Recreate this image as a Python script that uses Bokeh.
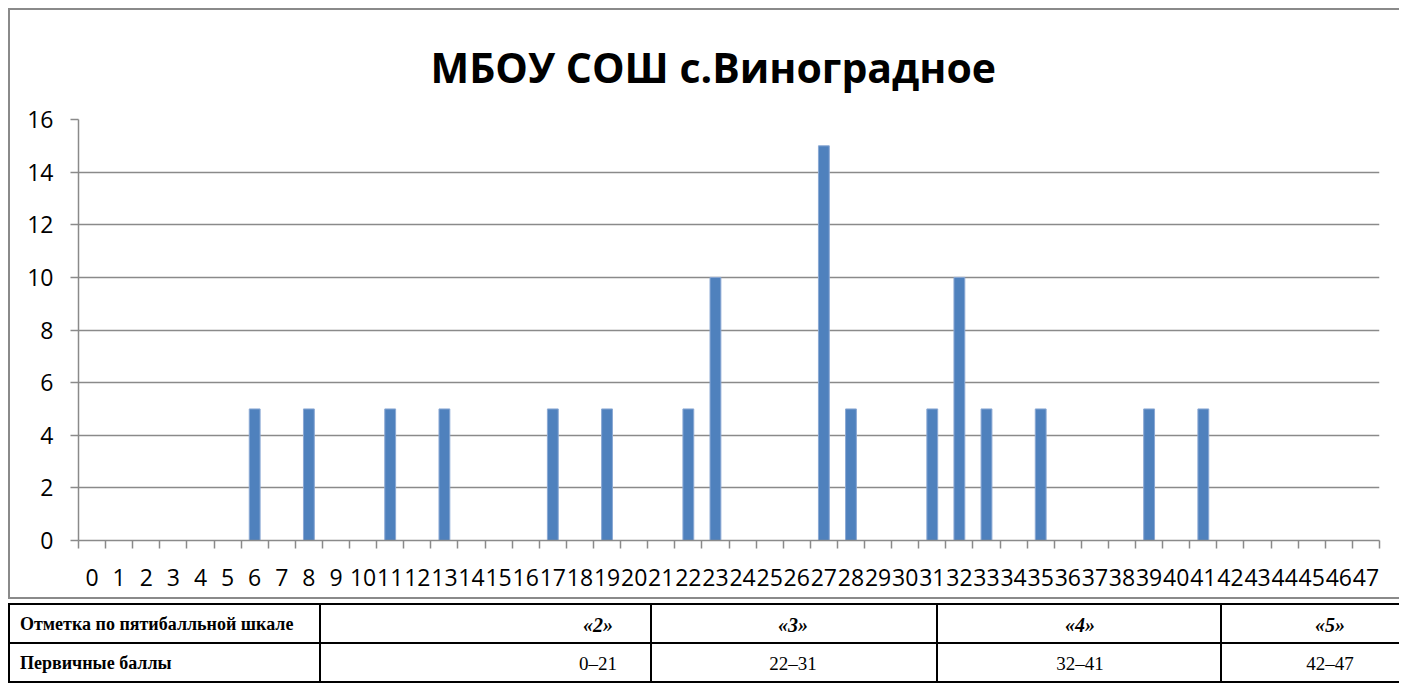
from bokeh.plotting import figure
from bokeh.models import Range1d, FixedTicker, Div
from bokeh.layouts import column
from bokeh.embed import file_html
from bokeh.resources import INLINE

# ---- data ----
title_text = "МБОУ СОШ с.Виноградное"
score_labels = [str(i) for i in range(48)]
scores = [6, 8, 11, 13, 17, 19, 22, 23, 27, 28, 31, 32, 33, 35, 39, 41]
counts = [5, 5, 5, 5, 5, 5, 5, 10, 15, 5, 5, 10, 5, 5, 5, 5]
y_ticks = [0, 2, 4, 6, 8, 10, 12, 14, 16]

row_headers = ["Отметка по пятибалльной шкале", "Первичные баллы"]
grades = ["«2»", "«3»", "«4»", "«5»"]
score_ranges = ["0–21", "22–31", "32–41", "42–47"]

GRAY = "#8a8a8a"
BAR = "#4F81BD"

p = figure(width=1391, height=591, output_backend="svg", toolbar_location=None,
           x_range=Range1d(-0.5, 47.5), y_range=Range1d(0, 16),
           min_border_left=68, min_border_right=22, min_border_top=109,
           min_border_bottom=61)
p.margin = (8, 0, 0, 8)
p.styles = {"border-left": f"2px solid {GRAY}", "border-top": f"2px solid {GRAY}",
            "border-bottom": f"2px solid {GRAY}"}
p.outline_line_color = None

p.title.text = title_text
p.title.align = "left"
p.title.offset = 352
p.title.text_font = "Open Sans"
p.title.text_font_style = "bold"
p.title.text_font_size = "41px"
p.title.text_color = "black"
p.title.standoff = 50

p.vbar(x=scores, top=counts, width=0.4, fill_color=BAR, line_color="#8AA8D4",
       line_width=1)

xt = FixedTicker(ticks=list(range(len(score_labels))),
                 minor_ticks=[i - 0.5 for i in range(len(score_labels) + 1)])
p.xaxis.ticker = xt
p.xaxis.major_label_overrides = {i: s for i, s in enumerate(score_labels)}
p.xaxis.major_tick_line_color = None
p.xaxis.minor_tick_line_color = GRAY
p.xaxis.minor_tick_line_width = 1.5
p.xaxis.minor_tick_in = 0
p.xaxis.minor_tick_out = 8
p.xaxis.axis_line_color = GRAY
p.xaxis.axis_line_width = 1.5
p.xaxis.major_label_standoff = 20
p.xaxis.major_label_text_font = "Open Sans"
p.xaxis.major_label_text_font_size = "23px"
p.xaxis.major_label_text_color = "black"
p.xgrid.visible = False

yt = FixedTicker(ticks=y_ticks, minor_ticks=[])
p.yaxis.ticker = yt
p.yaxis.major_tick_in = 0
p.yaxis.major_tick_out = 8
p.yaxis.major_tick_line_color = GRAY
p.yaxis.major_tick_line_width = 1.5
p.yaxis.minor_tick_line_color = None
p.yaxis.axis_line_color = GRAY
p.yaxis.axis_line_width = 1.5
p.yaxis.major_label_standoff = 17
p.yaxis.major_label_text_font = "Open Sans"
p.yaxis.major_label_text_font_size = "23px"
p.yaxis.major_label_text_color = "black"
p.ygrid.ticker = yt
p.ygrid.grid_line_color = GRAY
p.ygrid.grid_line_width = 1.5

# ---- table below (HTML) ----
FONT = "'Liberation Serif', 'Times New Roman', serif"
parts = []
for y in [4, 43, 82]:
    parts.append(f'<div style="position:absolute;left:0;top:{y-1}px;width:1391px;'
                 f'height:2px;background:#000"></div>')
for x in [1, 312, 643, 929, 1213]:
    parts.append(f'<div style="position:absolute;left:{x-1}px;top:4px;width:2px;'
                 f'height:79px;background:#000"></div>')

def cell(x, y, s, weight, style, anchor, size):
    tx = "-50%" if anchor == "center" else "0"
    return (f'<div style="position:absolute;left:{x}px;top:{y}px;'
            f'transform:translate({tx},-50%);white-space:nowrap;font-family:{FONT};'
            f'font-size:{size}px;font-weight:{weight};font-style:{style};color:#000">{s}</div>')

row_y = [25, 64]
col_x = [598 - 8, 793 - 8, 1080 - 8, 1330 - 8]
for ry, h in zip(row_y, row_headers):
    parts.append(cell(12, ry, h, "bold", "normal", "left", 18))
for cx, g in zip(col_x, grades):
    parts.append(cell(cx, row_y[0], g, "bold", "italic", "center", 20))
for cx, r in zip(col_x, score_ranges):
    parts.append(cell(cx, row_y[1], r, "normal", "normal", "center", 19))

table_html = ('<div style="position:relative;width:1391px;height:89px;overflow:hidden">'
              + "".join(parts) + "</div>")
tbl = Div(text=table_html, width=1391, height=89)
tbl.margin = (1, 0, 0, 8)

layout = column(p, tbl, spacing=0)
open("out.html", "w").write(file_html(layout, INLINE))
